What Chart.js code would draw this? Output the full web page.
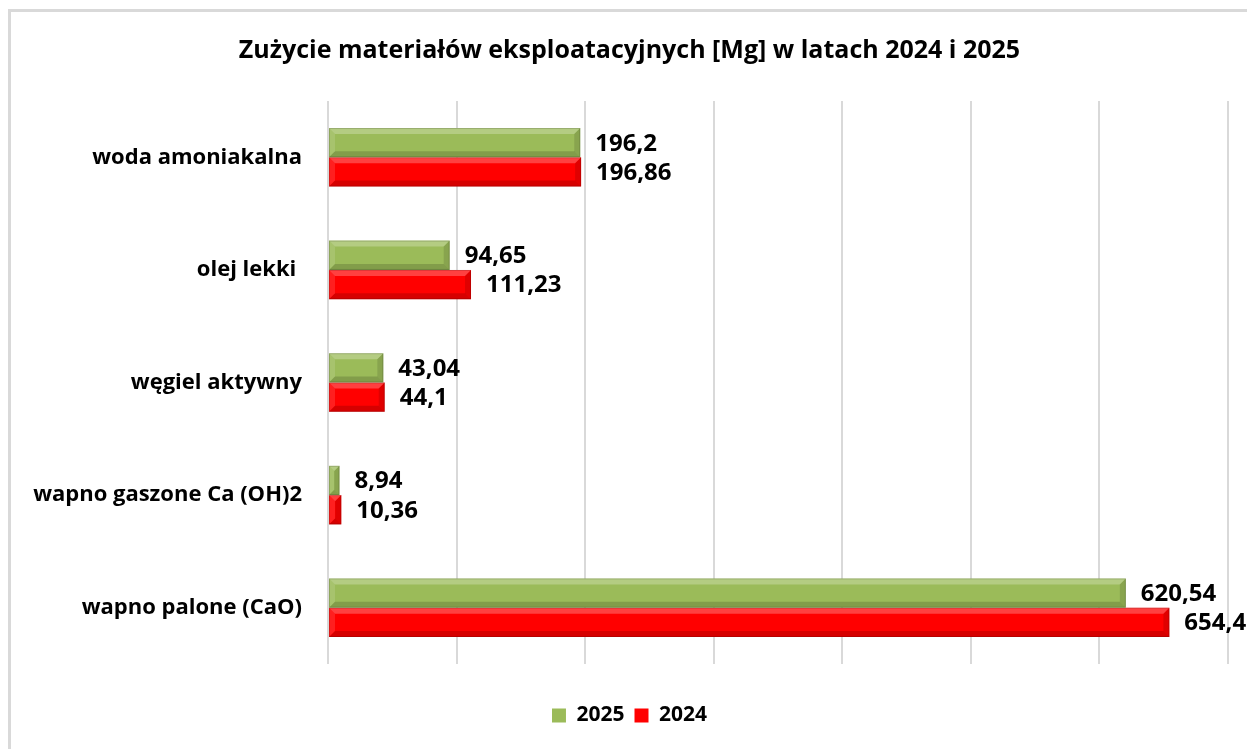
<!DOCTYPE html>
<html>
<head>
<meta charset="utf-8">
<script src="https://cdn.jsdelivr.net/npm/chart.js@4"></script>
<style>
  html, body { margin: 0; padding: 0; background: #fff; }
  #frame {
    position: absolute; left: 8px; top: 9px; right: 0; bottom: 0;
    border-left: 3px solid #d9d9d9; border-top: 3px solid #d9d9d9;
  }
  #wrap { position: absolute; left: 0; top: 0; width: 1236px; height: 737px; }
</style>
</head>
<body>
<div id="frame"><div id="wrap"><canvas id="chart"></canvas></div></div>
<script>
// ================= DATA =================
const categories = [
  "woda amoniakalna",
  "olej lekki ",
  "węgiel aktywny",
  "wapno gaszone Ca (OH)2",
  "wapno palone (CaO)",
];
const values2025 = [196.2, 94.65, 43.04, 8.94, 620.54];
const values2024 = [196.86, 111.23, 44.1, 10.36, 654.4];
const seriesNames = ["2025", "2024"];

const FONT = "'Open Sans', Lato, sans-serif";

function fmt(v) {
  return String(v).replace(".", ",");
}

// bevel look on each bar
const bevelPlugin = {
  id: "bevel",
  afterDatasetsDraw(chart) {
    const ctx = chart.ctx;
    chart.data.datasets.forEach((ds, i) => {
      chart.getDatasetMeta(i).data.forEach((bar) => {
        const x0 = Math.min(bar.base, bar.x);
        const x1 = Math.max(bar.base, bar.x);
        const y0 = bar.y - bar.height / 2;
        const y1 = bar.y + bar.height / 2;
        const b = Math.min(6, (x1 - x0) / 2);
        ctx.save();
        // top light
        ctx.fillStyle = "rgba(255,255,255,0.25)";
        ctx.beginPath();
        ctx.moveTo(x0, y0); ctx.lineTo(x1, y0); ctx.lineTo(x1 - b, y0 + b); ctx.lineTo(x0 + b, y0 + b);
        ctx.fill();
        // left light
        ctx.fillStyle = "rgba(255,255,255,0.12)";
        ctx.beginPath();
        ctx.moveTo(x0, y0); ctx.lineTo(x0 + b, y0 + b); ctx.lineTo(x0 + b, y1 - b); ctx.lineTo(x0, y1);
        ctx.fill();
        // bottom dark
        ctx.fillStyle = "rgba(0,0,0,0.16)";
        ctx.beginPath();
        ctx.moveTo(x0, y1); ctx.lineTo(x1, y1); ctx.lineTo(x1 - b, y1 - b); ctx.lineTo(x0 + b, y1 - b);
        ctx.fill();
        // right dark
        ctx.fillStyle = "rgba(0,0,0,0.12)";
        ctx.beginPath();
        ctx.moveTo(x1, y0); ctx.lineTo(x1, y1); ctx.lineTo(x1 - b, y1 - b); ctx.lineTo(x1 - b, y0 + b);
        ctx.fill();
        ctx.strokeStyle = "rgba(0,0,0,0.15)";
        ctx.lineWidth = 1;
        ctx.strokeRect(x0 + 0.5, y0 + 0.5, x1 - x0 - 1, y1 - y0 - 1);
        ctx.restore();
      });
    });
  },
};

// value labels at bar ends
const labelPlugin = {
  id: "valueLabels",
  afterDatasetsDraw(chart) {
    const ctx = chart.ctx;
    ctx.save();
    ctx.font = "bold 24px " + FONT;
    ctx.fillStyle = "#000";
    ctx.textAlign = "left";
    ctx.textBaseline = "middle";
    chart.data.datasets.forEach((ds, i) => {
      chart.getDatasetMeta(i).data.forEach((bar, j) => {
        ctx.fillText(fmt(ds.data[j]), bar.x + 15, bar.y + 1);
      });
    });
    ctx.restore();
  },
};

new Chart(document.getElementById("chart"), {
  type: "bar",
  data: {
    labels: categories,
    datasets: [
      {
        label: seriesNames[0],
        data: values2025,
        backgroundColor: "#9bbb59",
        borderWidth: 0,
      },
      {
        label: seriesNames[1],
        data: values2024,
        backgroundColor: "#ff0000",
        borderWidth: 0,
      },
    ],
  },
  options: {
    indexAxis: "y",
    responsive: true,
    maintainAspectRatio: false,
    animation: false,
    datasets: { bar: { categoryPercentage: 0.52, barPercentage: 1 } },
    layout: { padding: { left: 20, right: 19, top: 0, bottom: 13 } },
    plugins: {
      title: {
        display: true,
        text: "Zużycie materiałów eksploatacyjnych [Mg] w latach 2024 i 2025",
        color: "#000",
        font: { family: FONT, size: 25, weight: "bold" },
        padding: { top: 24, bottom: 35 },
      },
      legend: {
        position: "bottom",
        labels: {
          color: "#000",
          font: { family: FONT, size: 21, weight: "bold" },
          boxWidth: 14,
          boxHeight: 14,
          padding: 10,
        },
      },
      tooltip: { enabled: false },
    },
    scales: {
      x: {
        min: 0,
        max: 700,
        ticks: { display: false, stepSize: 100 },
        grid: { color: "#d9d9d9", lineWidth: 2, drawTicks: false },
        border: { display: false },
        afterFit(scale) { scale.height = 31; },
      },
      y: {
        grid: { display: false },
        border: { display: false },
        ticks: {
          color: "#000",
          font: { family: FONT, size: 22, weight: "bold" },
          padding: 18,
        },
        afterFit(scale) { scale.width = 297; },
      },
    },
  },
  plugins: [bevelPlugin, labelPlugin],
});
</script>
</body>
</html>
